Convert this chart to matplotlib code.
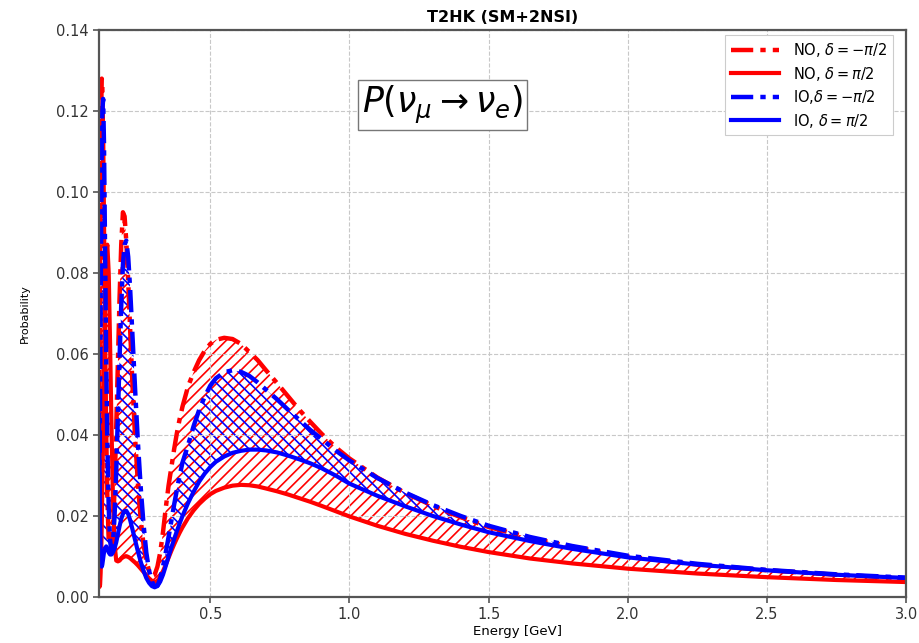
import matplotlib
matplotlib.use("Agg")
import matplotlib.pyplot as plt

# Neutrino energy grid [GeV]
energy = [0.100, 0.102, 0.104, 0.106, 0.108, 0.110, 0.112, 0.115, 0.118, 0.122,
          0.126, 0.130, 0.135, 0.140, 0.145, 0.150, 0.156, 0.162, 0.168, 0.174,
          0.180, 0.186, 0.192, 0.198, 0.205, 0.212, 0.220, 0.230, 0.240, 0.250,
          0.260, 0.270, 0.280, 0.290,
          0.30, 0.31, 0.32, 0.33, 0.34, 0.35, 0.36, 0.37, 0.38, 0.39, 0.40,
          0.42, 0.44, 0.46, 0.48, 0.50, 0.52,
          0.55, 0.58, 0.61, 0.64, 0.67, 0.70,
          0.74, 0.78, 0.82, 0.86, 0.90, 0.95, 1.00,
          1.10, 1.20, 1.30, 1.40, 1.50,
          1.65, 1.80, 2.00, 2.25, 2.50, 2.75, 3.00]

# P(nu_mu -> nu_e), normal ordering, delta = -pi/2
p_no_minus = [0.030, 0.055, 0.082, 0.105, 0.121, 0.128, 0.126, 0.112, 0.090, 0.062,
              0.040, 0.025, 0.014, 0.010, 0.011, 0.016, 0.027, 0.042, 0.058, 0.074,
              0.087, 0.095, 0.094, 0.088, 0.078, 0.066, 0.053, 0.039, 0.028, 0.019,
              0.013, 0.009, 0.0065, 0.0052,
              0.0055, 0.0075, 0.011, 0.016, 0.022, 0.0275, 0.032, 0.0365, 0.0405, 0.044, 0.047,
              0.052, 0.0555, 0.0585, 0.0608, 0.0625, 0.0635,
              0.0640, 0.0637, 0.0625, 0.0605, 0.0585, 0.0560,
              0.0528, 0.0495, 0.0462, 0.0432, 0.0403, 0.0370, 0.0342,
              0.0295, 0.0257, 0.0225, 0.0197, 0.0173,
              0.0146, 0.0124, 0.0100, 0.0080, 0.0066, 0.0055, 0.0046]

# normal ordering, delta = +pi/2
p_no_plus = [0.004, 0.0025, 0.003, 0.006, 0.011, 0.018, 0.027, 0.042, 0.058, 0.075,
             0.085, 0.087, 0.080, 0.062, 0.042, 0.025, 0.013, 0.009, 0.0088, 0.009,
             0.0095, 0.0098, 0.010, 0.0101, 0.0099, 0.0096, 0.0091, 0.0085, 0.0078, 0.0070,
             0.0062, 0.0054, 0.0046, 0.0040,
             0.0037, 0.0040, 0.0050, 0.0064, 0.0080, 0.0097, 0.0114, 0.0130, 0.0145, 0.0159, 0.0172,
             0.0195, 0.0214, 0.0230, 0.0243, 0.0254, 0.0262,
             0.0270, 0.0275, 0.0277, 0.0276, 0.0273, 0.0268,
             0.0261, 0.0253, 0.0244, 0.0235, 0.0225, 0.0212, 0.0199,
             0.0176, 0.0156, 0.0139, 0.0124, 0.0111,
             0.0095, 0.0083, 0.0070, 0.0058, 0.0049, 0.0042, 0.0037]

# inverted ordering, delta = -pi/2
p_io_minus = [0.015, 0.030, 0.050, 0.072, 0.093, 0.110, 0.120, 0.123, 0.112, 0.085,
              0.058, 0.038, 0.022, 0.014, 0.011, 0.013, 0.020, 0.031, 0.045, 0.059,
              0.072, 0.082, 0.087, 0.088, 0.084, 0.076, 0.065, 0.051, 0.038, 0.027,
              0.018, 0.011, 0.0065, 0.0038,
              0.0027, 0.0028, 0.0045, 0.0075, 0.011, 0.0148, 0.0188, 0.0228, 0.0265, 0.0300, 0.0332,
              0.0375, 0.0422, 0.0462, 0.0495, 0.0522, 0.0540,
              0.0555, 0.0560, 0.0556, 0.0546, 0.0530, 0.0512,
              0.0488, 0.0462, 0.0437, 0.0412, 0.0390, 0.0362, 0.0337,
              0.0294, 0.0258, 0.0227, 0.0200, 0.0176,
              0.0148, 0.0126, 0.0102, 0.0082, 0.0067, 0.0056, 0.0048]

# inverted ordering, delta = +pi/2
p_io_plus = [0.045, 0.030, 0.018, 0.011, 0.008, 0.0075, 0.008, 0.0095, 0.011, 0.012,
             0.0125, 0.012, 0.011, 0.0105, 0.0105, 0.011, 0.012, 0.0135, 0.0155, 0.0175,
             0.0193, 0.0205, 0.0212, 0.0213, 0.0205, 0.019, 0.0168, 0.014, 0.0112, 0.0087,
             0.0065, 0.0047, 0.0035, 0.0027,
             0.0024, 0.0027, 0.0038, 0.0055, 0.0077, 0.0100, 0.0122, 0.0143, 0.0163, 0.0182, 0.0200,
             0.0232, 0.0260, 0.0285, 0.0305, 0.0321, 0.0334,
             0.0347, 0.0356, 0.0361, 0.0364, 0.0364, 0.0362,
             0.0357, 0.0349, 0.0340, 0.0330, 0.0318, 0.0300, 0.0280,
             0.0250, 0.0224, 0.0200, 0.0179, 0.0160,
             0.0138, 0.0119, 0.0098, 0.0080, 0.0066, 0.0055, 0.0047]

x_ticks = [0.5, 1.0, 1.5, 2.0, 2.5, 3.0]
y_ticks = [0.00, 0.02, 0.04, 0.06, 0.08, 0.10, 0.12, 0.14]

plt.rcParams['hatch.linewidth'] = 1.2

fig = plt.figure(figsize=(9.19, 6.43), dpi=100)
ax = fig.add_axes([0.1077, 0.0715, 0.8783, 0.8818])

dash_style = (0, (5, 1.6, 1.2, 1.6))

ax.fill_between(energy, p_no_minus, p_no_plus, facecolor='none',
                edgecolor='red', hatch='///', linewidth=0)
ax.fill_between(energy, p_io_minus, p_io_plus, facecolor='none',
                edgecolor='blue', hatch='\\\\\\', linewidth=0)

ax.plot(energy, p_no_minus, color='red', lw=3.2, ls=dash_style,
        label=r'NO, $\delta = -\pi/2$')
ax.plot(energy, p_no_plus, color='red', lw=3.0, ls='-',
        label=r'NO, $\delta = \pi/2$')
ax.plot(energy, p_io_minus, color='blue', lw=3.2, ls=dash_style,
        label=r'IO,$\delta = -\pi/2$')
ax.plot(energy, p_io_plus, color='blue', lw=3.0, ls='-',
        label=r'IO, $\delta = \pi/2$')

ax.set_xlim(0.1, 3.0)
ax.set_ylim(0.0, 0.14)
ax.set_xticks(x_ticks)
ax.set_yticks(y_ticks)
ax.set_xticklabels([f'{v:.1f}' for v in x_ticks])
ax.set_yticklabels([f'{v:.2f}' for v in y_ticks])
ax.tick_params(labelsize=10.5, labelcolor='#333333', color='#555555',
               length=4, width=1.2)
ax.grid(True, ls='--', color='#c8c8c8', lw=0.8)
for sp in ax.spines.values():
    sp.set_color('#555555')
    sp.set_linewidth(1.6)

ax.set_title('T2HK (SM+2NSI)', fontsize=11.5, fontweight='bold', pad=6)
ax.set_xlabel('Energy [GeV]', fontsize=9.5)
ax.xaxis.set_label_coords(0.518, -0.05)
ax.set_ylabel('Probability', fontsize=8)
ax.yaxis.set_label_coords(-0.085, 0.5)

ax.text(0.426, 0.868, r'$P(\nu_\mu \rightarrow \nu_e)$', transform=ax.transAxes,
        fontsize=25, ha='center', va='center',
        bbox=dict(boxstyle='square,pad=0.12', facecolor='white', edgecolor='#777777', lw=1))

leg = ax.legend(loc='upper right', bbox_to_anchor=(0.984, 0.991), borderaxespad=0,
                fontsize=10.5, handlelength=3.3, handletextpad=1.0,
                borderpad=0.4, labelspacing=0.38, framealpha=1,
                edgecolor='#cccccc', fancybox=False)
leg.get_frame().set_linewidth(0.8)

fig.savefig('out.png', dpi=100)
